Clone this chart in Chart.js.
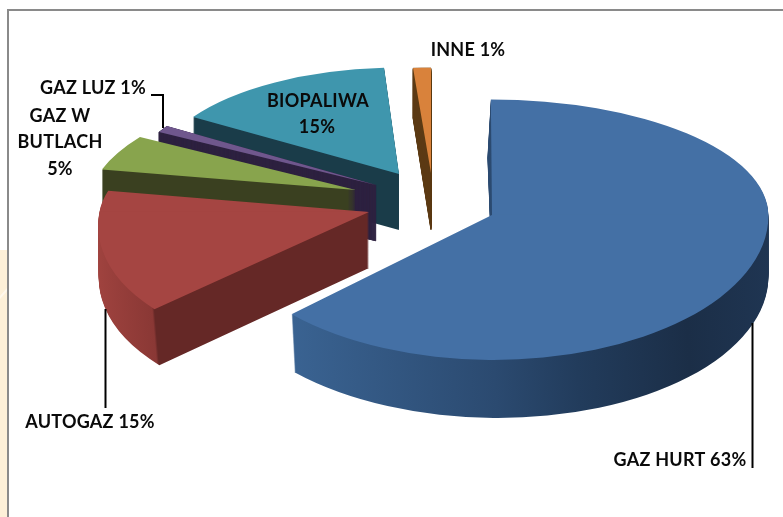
<!DOCTYPE html>
<html><head><meta charset="utf-8">
<style>html,body{margin:0;padding:0;background:#fff}canvas{display:block}</style>
<script src="https://cdn.jsdelivr.net/npm/chart.js@4"></script>
</head><body><canvas id="c" width="783" height="517"></canvas>
<script>
const categories=["GAZ HURT","AUTOGAZ","GAZ W BUTLACH","GAZ LUZ","BIOPALIWA","INNE"];
const shares=[63,15,5,1,15,1];
const topColors=["#4470a5","#a54542","#88a44d","#6f578d","#3f96ad","#d9823b"];
const sideStops=[
 [[0,"#3c6594"],[.13,"#3a6392"],[.5,"#2b4a70"],[.65,"#223c5c"],[.85,"#1b2e47"],[1,"#1f3552"]],
 [[0,"#a0433f"],[.13,"#8a3835"],[.135,"#652826"],[1,"#652826"]],
 [[0,"#3a4020"],[1,"#3a4020"]],
 [[0,"#2e2240"],[1,"#2e2240"]],
 [[0,"#1a3c49"],[1,"#1a3c49"]],
 [[0,"#5c3a14"],[1,"#5c3a14"]]
];
// per-slice 3D projection (explosion, perspective scale, tilt, extrusion)
const explodeX=[62,-61,-74,-54,-31,1];
const explodeY=[12,9,-13,-18,-29,-30];
const scaleX=[1.005,.98,.964,.9,.888,1.04];
const lean=[.01,-.186,-.307,0,-.004,0];
const tiltUp=[.42,.41,.4,.4,.387,.383];
const tiltDown=[.527,.516,.4,.4,.387,.383];
const depth=[58,56,45,56,56,57];
const sideSkew=[0,0,0,0,0,.39];
const sideLean=[.03,.05,0,0,0,0];
const layerDensity=[1,1,1,3,1,3];
const sideBorder=[0,0,0,1.5,0,.6];
const drawOrder=[5,4,3,2,1,0];
const labels=[
 {t:"GAZ LUZ 1%",x:146,y:88,a:"right"},
 {t:"GAZ W",x:60,y:116,a:"center"},
 {t:"BUTLACH",x:60,y:142,a:"center"},
 {t:"5%",x:60,y:169,a:"center"},
 {t:"INNE 1%",x:468,y:50,a:"center"},
 {t:"BIOPALIWA",x:318,y:101,a:"center"},
 {t:"15%",x:317,y:127,a:"center"},
 {t:"AUTOGAZ 15%",x:90,y:422,a:"center"},
 {t:"GAZ HURT 63%",x:680,y:460,a:"center"}
];
const leaders=[
 [[151,95],[163,95],[163,128]],
 [[105.5,309],[105.5,408]],
 [[752.5,323],[752.5,468]]
];
const R=275;
const pie3d={
 id:'pie3d',
 beforeDraw(chart){
  const c=chart.ctx;
  c.save();
  c.fillStyle="#fff";c.fillRect(0,0,783,517);
  c.fillStyle="#fdf0d8";c.fillRect(0,250,7,267);
  c.fillStyle="#fff8ec";c.beginPath();c.moveTo(0,296);c.lineTo(7,288);c.lineTo(7,291);c.lineTo(0,299);c.fill();
  c.fillStyle="#8a8a8a";c.fillRect(7,9,2,508);c.fillRect(7,9,776,2);
  c.restore();
 },
 beforeDatasetDraw(chart,args){
  const c=chart.ctx, arcs=args.meta.data;
  const paint=(i,el,t,f,fill,clip,border)=>{
   const a=scaleX[i], b=f*sideSkew[i]*scaleX[i];
   const cc=(lean[i]+f*sideLean[i])*t, d=t*(1+f*sideSkew[i]*lean[i]);
   const ax=el.x+explodeX[i], ay=el.y+explodeY[i]+f*depth[i];
   c.save();
   c.transform(a,b,cc,d,ax-(a*el.x+cc*el.y),ay-(b*el.x+d*el.y));
   if(clip){c.beginPath();
    if(clip<0)c.rect(el.x-1200,el.y-1200,2400,1200.5);
    else c.rect(el.x-1200,el.y-.5,2400,1200.5);
    c.clip();}
   const o=el.options;
   el.options=Object.assign({},o,{backgroundColor:fill,borderWidth:border||0,borderColor:sideStops[i][0][1],borderAlign:'center'});
   el.draw(c);
   el.options=o;
   c.restore();
  };
  const both=(i,el,f,fill,border)=>{
   if(tiltUp[i]===tiltDown[i])paint(i,el,tiltUp[i],f,fill,0,border);
   else{paint(i,el,tiltUp[i],f,fill,-1,border);paint(i,el,tiltDown[i],f,fill,1,border);}
  };
  drawOrder.forEach(i=>{
   const el=arcs[i];
   const g=c.createLinearGradient(el.x-R,0,el.x+R,0);
   sideStops[i].forEach(s=>g.addColorStop(s[0],s[1]));
   const n=Math.round(depth[i]*layerDensity[i]);
   for(let k=n;k>=1;k--)both(i,el,k/n,g,sideBorder[i]);
   both(i,el,0,topColors[i],0);
  });
  return false;
 },
 afterDatasetsDraw(chart){
  const c=chart.ctx;
  c.save();
  c.strokeStyle="#000";c.lineWidth=2;
  leaders.forEach(l=>{c.beginPath();l.forEach((p,j)=>j?c.lineTo(p[0],p[1]):c.moveTo(p[0],p[1]));c.stroke();});
  c.fillStyle="#0a0a0a";c.font="bold 18px Lato, 'Open Sans', sans-serif";c.textBaseline="middle";
  c.letterSpacing="0.25px";
  labels.forEach(l=>{c.textAlign=l.a;c.fillText(l.t,l.x,l.y);});
  c.restore();
 }
};
new Chart(document.getElementById('c'),{
 type:'pie',
 data:{labels:categories,datasets:[{data:shares,backgroundColor:topColors,borderWidth:0}]},
 options:{responsive:false,animation:false,devicePixelRatio:1,radius:R,events:[],
  layout:{padding:{left:77,bottom:111}},
  plugins:{legend:{display:false},tooltip:{enabled:false},title:{display:false}}},
 plugins:[pie3d]
});
</script></body></html>
